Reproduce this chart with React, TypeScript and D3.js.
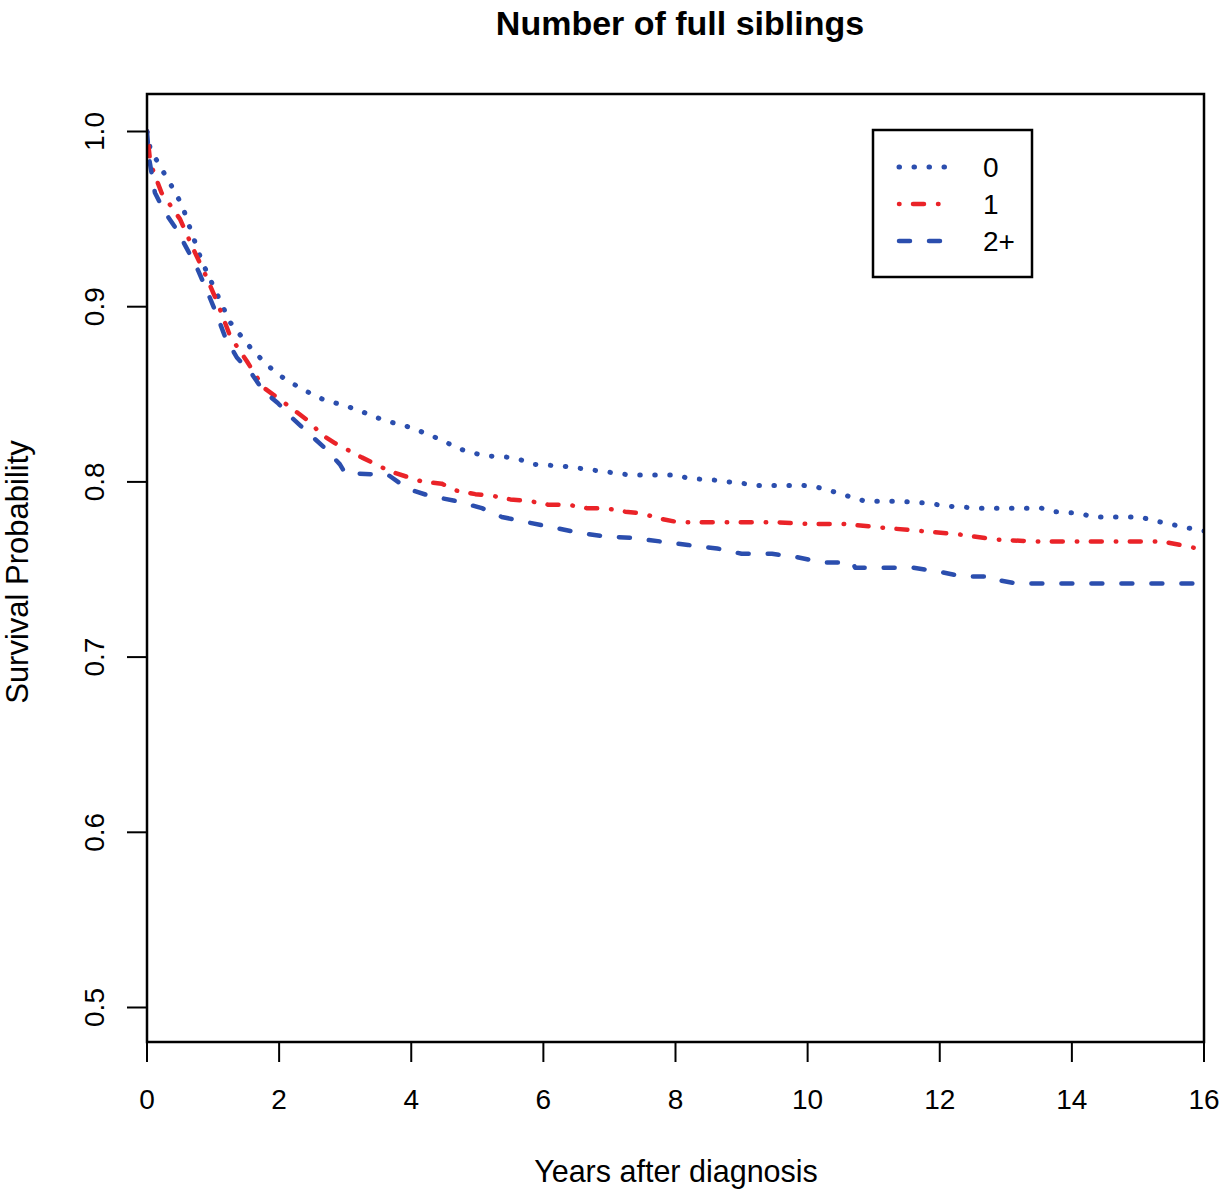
import React from "react";
import * as d3 from "d3";

const title = "Number of full siblings";
const xLabel = "Years after diagnosis";
const yLabel = "Survival Probability";
const xTicks = [0, 2, 4, 6, 8, 10, 12, 14, 16];
const yTicks = [0.5, 0.6, 0.7, 0.8, 0.9, 1.0];
const legendLabels = ["0", "1", "2+"];

const t0 = [0, 0.05, 0.2, 0.37, 0.53, 0.65, 0.83, 1.05, 1.26, 1.45, 1.58, 1.81, 2.0, 2.21, 2.45, 2.67, 2.95, 3.2, 3.45, 3.7, 4.0, 4.39, 4.56, 4.71, 5.09, 5.5, 5.72, 5.87, 6.3, 6.5, 6.9, 7.1, 7.3, 8.0, 8.2, 8.6, 8.8, 9.05, 9.25, 9.93, 10.14, 10.34, 10.6, 10.87, 11.35, 11.75, 12.18, 12.6, 13.54, 13.74, 14.12, 14.32, 15.03, 15.23, 15.6, 15.85, 16];
const s0 = [1.0, 0.99, 0.98, 0.969, 0.958, 0.945, 0.926, 0.908, 0.891, 0.882, 0.876, 0.867, 0.861, 0.856, 0.851, 0.847, 0.844, 0.841, 0.837, 0.834, 0.831, 0.825, 0.822, 0.819, 0.815, 0.814, 0.812, 0.81, 0.809, 0.808, 0.806, 0.805, 0.804, 0.804, 0.802, 0.801, 0.8, 0.799, 0.798, 0.798, 0.797, 0.795, 0.792, 0.789, 0.789, 0.788, 0.786, 0.785, 0.785, 0.783, 0.782, 0.78, 0.78, 0.778, 0.775, 0.773, 0.772];

const t1 = [0, 0.05, 0.22, 0.37, 0.5, 0.7, 0.9, 1.08, 1.26, 1.51, 1.76, 2.12, 2.47, 2.64, 2.85, 3.25, 3.68, 4.18, 4.46, 4.69, 4.97, 5.24, 5.5, 5.8, 6.07, 6.37, 6.66, 6.93, 7.24, 7.49, 7.77, 8.04, 9.5, 10.0, 10.54, 11.1, 11.7, 12.3, 12.87, 13.47, 15.37, 15.64, 15.9, 16];
const s1 = [1.0, 0.982, 0.965, 0.957, 0.95, 0.933, 0.917, 0.901, 0.883, 0.869, 0.854, 0.844, 0.834, 0.827, 0.822, 0.814, 0.806, 0.8, 0.799, 0.795, 0.793, 0.792, 0.79, 0.789, 0.787, 0.787, 0.785, 0.785, 0.783, 0.782, 0.779, 0.777, 0.777, 0.776, 0.776, 0.774, 0.772, 0.77, 0.767, 0.766, 0.766, 0.764, 0.762, 0.761];

const t2 = [0, 0.03, 0.12, 0.27, 0.45, 0.62, 0.77, 0.92, 1.05, 1.18, 1.36, 1.58, 1.76, 1.98, 2.21, 2.44, 2.7, 2.92, 3.0, 3.65, 3.95, 4.28, 4.69, 5.07, 5.37, 5.75, 6.15, 6.53, 6.9, 7.36, 7.77, 8.19, 8.63, 9.0, 9.46, 9.84, 10.23, 10.68, 10.72, 11.6, 11.96, 12.35, 12.8, 12.87, 13.17, 16];
const s2 = [1.0, 0.985, 0.965, 0.954, 0.944, 0.932, 0.921, 0.908, 0.896, 0.883, 0.871, 0.862, 0.852, 0.845, 0.836, 0.828, 0.819, 0.81, 0.805, 0.804, 0.796, 0.792, 0.789, 0.785, 0.78, 0.777, 0.774, 0.771, 0.769, 0.768, 0.766, 0.764, 0.762, 0.759, 0.759, 0.757, 0.754, 0.754, 0.751, 0.751, 0.749, 0.746, 0.746, 0.744, 0.742, 0.742];

const BLUE = "#2B4EAE";
const RED = "#EA2328";

const series = [
  { t: t0, s: s0, color: BLUE, dash: "0.5 14.5", width: 5 },
  { t: t1, s: s1, color: RED, dash: "0.5 13.5 11 14", width: 4.5 },
  { t: t2, s: s2, color: BLUE, dash: "11 19", width: 4.5 },
];

export default function App() {
  const W = 1222, H = 1190;
  const left = 147, right = 1204, top = 94, bottom = 1042;
  const x = d3.scaleLinear().domain([0, 16]).range([left, right]);
  const y = d3.scaleLinear().domain([0.5, 1.0]).range([1007.5, 131.5]);
  const font = "'Liberation Sans', Arial, Helvetica, sans-serif";

  return (
    <svg width={W} height={H} style={{ position: "absolute", left: 0, top: 0, background: "#fff" }} fontFamily={font}>
      <rect x={0} y={0} width={W} height={H} fill="#fff" />
      <defs>
        <clipPath id="plotclip">
          <rect x={left} y={top} width={right - left} height={bottom - top} />
        </clipPath>
      </defs>
      <text x={680} y={35} textAnchor="middle" fontSize={34} fontWeight="bold" fill="#000">{title}</text>

      <g clipPath="url(#plotclip)">
        {series.map((sr, i) => {
          const pts: [number, number][] = sr.t.map((tv, j) => [tv, sr.s[j]]);
          const line = d3.line<[number, number]>().x(d => x(d[0])).y(d => y(d[1])).curve(d3.curveLinear);
          return (
            <path key={i} d={line(pts) || ""} fill="none" stroke={sr.color} strokeWidth={sr.width}
              strokeDasharray={sr.dash} strokeLinecap="round" strokeLinejoin="round" />
          );
        })}
      </g>

      <rect x={left} y={top} width={right - left} height={bottom - top} fill="none" stroke="#000" strokeWidth={2.5} />

      {xTicks.map(v => (
        <g key={"x" + v}>
          <line x1={x(v)} x2={x(v)} y1={bottom} y2={1062} stroke="#000" strokeWidth={2} />
          <text x={x(v)} y={1109} textAnchor="middle" fontSize={28} fill="#000">{v}</text>
        </g>
      ))}
      {yTicks.map(v => (
        <g key={"y" + v}>
          <line x1={127} x2={left} y1={y(v)} y2={y(v)} stroke="#000" strokeWidth={2} />
          <text transform={`translate(104,${y(v)}) rotate(-90)`} textAnchor="middle" fontSize={28} fill="#000">{v.toFixed(1)}</text>
        </g>
      ))}

      <text x={676} y={1182} textAnchor="middle" fontSize={30.5} fill="#000">{xLabel}</text>
      <text transform={`translate(28,572) rotate(-90)`} textAnchor="middle" fontSize={31} fill="#000">{yLabel}</text>

      <g>
        <rect x={873} y={130} width={159} height={147} fill="#fff" stroke="#000" strokeWidth={2.5} />
        {legendLabels.map((lab, i) => {
          const ly = 167 + i * 37;
          const sr = series[i];
          return (
            <g key={lab}>
              <line x1={899} x2={950} y1={ly} y2={ly} stroke={sr.color} strokeWidth={sr.width}
                strokeDasharray={sr.dash} strokeLinecap="round" />
              <text x={983} y={ly + 10} fontSize={28} fill="#000">{lab}</text>
            </g>
          );
        })}
      </g>
    </svg>
  );
}
